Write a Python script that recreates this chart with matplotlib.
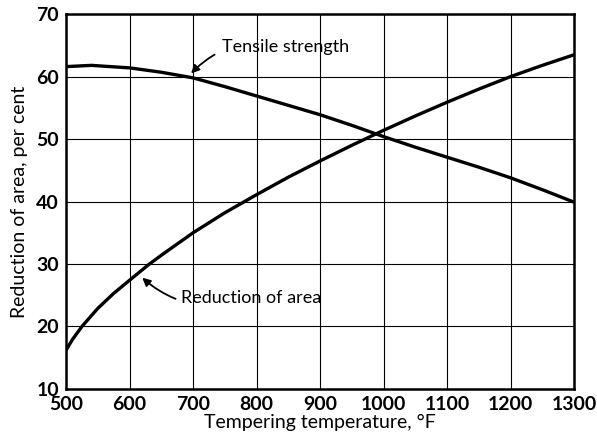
import matplotlib.pyplot as plt
import numpy as np
from matplotlib import rcParams

rcParams['font.family'] = ['Lato', 'DejaVu Sans']

# Values
temp = [500, 540, 600, 650, 700, 750, 800, 850, 900, 950, 1000, 1050, 1100, 1150, 1200, 1250, 1300]
tensile = [61.6, 61.8, 61.4, 60.7, 59.8, 58.4, 56.9, 55.4, 53.9, 52.2, 50.4, 48.7, 47.1, 45.5, 43.8, 41.9, 39.9]
red_temp = [500, 510, 525, 550, 575, 600, 630, 650, 700, 750, 800, 850, 900, 950, 1000, 1050, 1100, 1150, 1200, 1250, 1300]
red_area = [16.2, 17.9, 20.0, 22.9, 25.3, 27.4, 29.9, 31.4, 35.0, 38.2, 41.1, 43.9, 46.5, 49.0, 51.4, 53.7, 55.9, 58.0, 60.0, 61.8, 63.5]

xticks = [500, 600, 700, 800, 900, 1000, 1100, 1200, 1300]
yticks = [10, 20, 30, 40, 50, 60, 70]

fig = plt.figure(figsize=(5.97, 4.42), dpi=100)
ax = fig.add_axes([0.1106, 0.12, 0.851, 0.848])

ax.plot(temp, tensile, color='black', linewidth=2.4, solid_capstyle='butt')
ax.plot(red_temp, red_area, color='black', linewidth=2.4, solid_capstyle='butt')

ax.set_xlim(500, 1300)
ax.set_ylim(10, 70)
ax.set_xticks(xticks)
ax.set_yticks(yticks)
ax.grid(True, color='black', linewidth=0.8)
ax.tick_params(length=0, labelsize=14, pad=5)
for lab in ax.get_xticklabels() + ax.get_yticklabels():
    lab.set_fontweight('bold')
for s in ax.spines.values():
    s.set_linewidth(1.8)

ax.set_xlabel('Tempering temperature, \u00b0F', fontsize=14, labelpad=1)
ax.set_ylabel('Reduction of area, per cent', fontsize=14, labelpad=6)

ax.annotate('Tensile strength', xy=(697, 60.5), xytext=(746, 64.7),
            fontsize=13, va='center', ha='left',
            arrowprops=dict(arrowstyle='-|>', color='black', lw=1.3, mutation_scale=12,
                            connectionstyle='arc3,rad=0.3', shrinkA=4, shrinkB=0))
ax.annotate('Reduction of area', xy=(620, 27.8), xytext=(681, 24.6),
            fontsize=13, va='center', ha='left',
            arrowprops=dict(arrowstyle='-|>', color='black', lw=1.3, mutation_scale=12,
                            connectionstyle='arc3,rad=-0.3', shrinkA=2, shrinkB=0))

fig.savefig('out.png', dpi=100)
